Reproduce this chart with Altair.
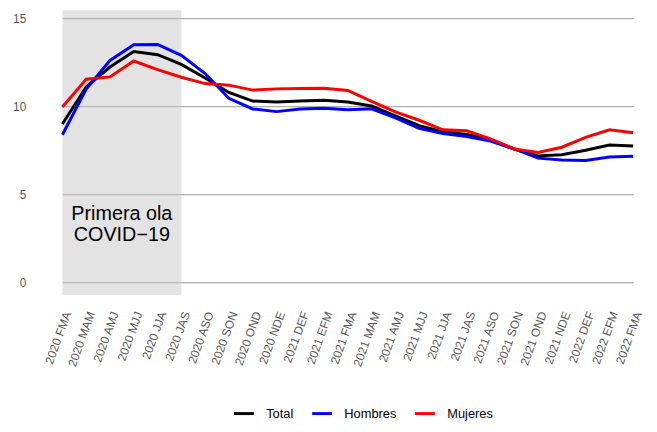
import altair as alt
import pandas as pd

periodos = ["2020 FMA", "2020 MAM", "2020 AMJ", "2020 MJJ", "2020 JJA", "2020 JAS",
            "2020 ASO", "2020 SON", "2020 OND", "2020 NDE", "2021 DEF", "2021 EFM",
            "2021 FMA", "2021 MAM", "2021 AMJ", "2021 MJJ", "2021 JJA", "2021 JAS",
            "2021 ASO", "2021 SON", "2021 OND", "2021 NDE", "2022 DEF", "2022 EFM",
            "2022 FMA"]
total = [9.0, 11.1, 12.23, 13.11, 12.93, 12.38, 11.61, 10.79, 10.3, 10.24, 10.3, 10.34,
         10.24, 10.02, 9.46, 8.9, 8.56, 8.41, 8.09, 7.58, 7.19, 7.25, 7.51, 7.81, 7.75]
hombres = [8.39, 10.98, 12.6, 13.49, 13.51, 12.89, 11.86, 10.45, 9.85, 9.7, 9.85, 9.89,
           9.8, 9.86, 9.34, 8.75, 8.46, 8.28, 8.03, 7.58, 7.06, 6.95, 6.93, 7.12, 7.17]
mujeres = [9.96, 11.54, 11.67, 12.57, 12.08, 11.65, 11.29, 11.2, 10.92, 10.99, 11.01, 11.03,
           10.9, 10.28, 9.68, 9.21, 8.67, 8.61, 8.15, 7.58, 7.38, 7.68, 8.24, 8.67, 8.5]
series = ["Total", "Hombres", "Mujeres"]
colores = ["black", "#0000FF", "#FF0000"]
y_ticks = [0, 5, 10, 15]
y_domain = [-0.71, 15.45]

# shaded period: first COVID-19 wave
ola_inicio = "2020 FMA"
ola_fin = "2020 JAS"
anot_x = "2020 AMJ"
anot_y = 3.54
anot_text = ["Primera ola", "COVID\u221219"]

rows = []
for name, vals in zip(series, [total, hombres, mujeres]):
    for p, v in zip(periodos, vals):
        rows.append({"periodo": p, "serie": name, "valor": v})
df = pd.DataFrame(rows)

xscale = alt.Scale(type="point", domain=periodos, range=[29, 606], padding=0)
yscale = alt.Scale(domain=y_domain, nice=False, zero=False)

rect = alt.Chart(pd.DataFrame({"x": [ola_inicio], "x2": [ola_fin],
                               "y": [y_domain[0]], "y2": [y_domain[1]]})).mark_rect(
    color="#bebebe", opacity=0.43
).encode(
    x=alt.X("x:N", scale=xscale),
    x2="x2:N",
    y=alt.Y("y:Q", scale=yscale),
    y2="y2:Q",
)

lines = alt.Chart(df).mark_line(strokeWidth=3).encode(
    x=alt.X("periodo:N", scale=xscale, sort=periodos, title=None,
            axis=alt.Axis(labelAngle=290, labelAlign="right", labelBaseline="top",
                          labelPadding=15, ticks=False, domain=False, grid=False,
                          labelColor="#555555", labelFontSize=12, labelOverlap=False)),
    y=alt.Y("valor:Q", scale=yscale, title=None,
            axis=alt.Axis(values=y_ticks, ticks=False, domain=False, grid=True,
                          gridColor="#9a9a9a", gridWidth=1, labelPadding=8,
                          labelColor="#555555", labelFontSize=12)),
    color=alt.Color("serie:N", scale=alt.Scale(domain=series, range=colores),
                    legend=alt.Legend(orient="none", legendX=201, legendY=396,
                                      direction="horizontal", title=None,
                                      symbolType="stroke", symbolSize=400,
                                      symbolStrokeWidth=3, labelFontSize=13,
                                      labelColor="black", labelOffset=11,
                                      columnPadding=12, padding=0)),
    order=alt.Order("orden:Q"),
).transform_calculate(
    orden="indexof(['Total','Hombres','Mujeres'], datum.serie)"
)

text = alt.Chart(pd.DataFrame({"x": [anot_x], "y": [anot_y]})).mark_text(
    text=anot_text, dx=12, align="center", baseline="alphabetic",
    fontSize=20, lineHeight=21, color="black"
).encode(
    x=alt.X("x:N", scale=xscale),
    y=alt.Y("y:Q", scale=yscale),
)

chart = alt.layer(rect, lines, text).properties(
    width=622, height=288,
    padding={"left": 4, "top": 0, "right": 0, "bottom": 0},
).configure(font="Liberation Sans").configure_view(stroke=None)

chart.save("out.html", embed_options={"renderer": "svg", "actions": False})
